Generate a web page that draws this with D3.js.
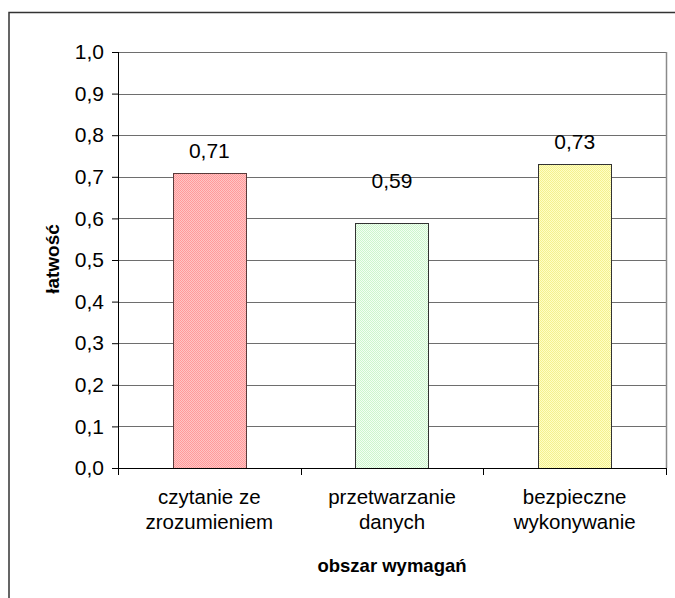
<!DOCTYPE html>
<html>
<head>
<meta charset="utf-8">
<script src="https://cdn.jsdelivr.net/npm/d3@7"></script>
<style>
  body { margin: 0; background: #fff; }
  text { font-family: Arial, "Liberation Sans", sans-serif; }
</style>
</head>
<body>
<script>
// categories (two lines each) and values
const categories = [
    ["czytanie ze", "zrozumieniem"],
    ["przetwarzanie", "danych"],
    ["bezpieczne", "wykonywanie"]
];
const values = [0.71, 0.59, 0.73];
const valueLabels = ["0,71", "0,59", "0,73"];
const yTicks = [0, 0.1, 0.2, 0.3, 0.4, 0.5, 0.6, 0.7, 0.8, 0.9, 1.0];

// bar colours: base and dot colour for the fine hatch
const fills = [
    {base: "#ffc4c4", dot: "#ff9a9a"},
    {base: "#f2fff2", dot: "#cdf5cd"},
    {base: "#ffffc4", dot: "#f4f090"}
];

const canvWidth = 675, canvHeight = 598;
const margin = {top: 52, right: 9, bottom: 130, left: 118};
const width = canvWidth - margin.left - margin.right;
const height = canvHeight - margin.top - margin.bottom;

const svg = d3.select("body").append("svg")
    .attr("width", canvWidth)
    .attr("height", canvHeight);

// small dotted patterns for the bars
const defs = svg.append("defs");
fills.forEach((f, i) => {
    const p = defs.append("pattern")
        .attr("id", "pat" + i)
        .attr("width", 2).attr("height", 2)
        .attr("patternUnits", "userSpaceOnUse");
    p.append("rect").attr("width", 2).attr("height", 2).attr("fill", f.base);
    p.append("rect").attr("width", 1).attr("height", 1).attr("fill", f.dot);
    p.append("rect").attr("x", 1).attr("y", 1).attr("width", 1).attr("height", 1).attr("fill", f.dot);
});

// outer chart frame (runs off the right and bottom of the window)
svg.append("rect")
    .attr("x", 9).attr("y", 12.5)
    .attr("width", 700).attr("height", 620)
    .attr("fill", "none")
    .attr("stroke", "#333")
    .attr("stroke-width", 1.5);

const g = svg.append("g")
    .attr("transform", `translate(${margin.left},${margin.top})`);

const xScale = d3.scaleBand()
    .domain(d3.range(categories.length))
    .range([0, width])
    .paddingInner(0.6)
    .paddingOuter(0.3);

const yScale = d3.scaleLinear().domain([0, 1]).range([height, 0]);

// gridlines
g.append("g")
    .selectAll("line")
    .data(yTicks.filter(d => d > 0))
    .enter().append("line")
    .attr("x1", 0).attr("x2", width)
    .attr("y1", d => Math.round(yScale(d)) + 0.5)
    .attr("y2", d => Math.round(yScale(d)) + 0.5)
    .attr("stroke", "#6e6e6e");

// right border of the plot area
g.append("line")
    .attr("x1", width + 0.5).attr("x2", width + 0.5)
    .attr("y1", 0).attr("y2", height)
    .attr("stroke", "#8a8a8a")
    .attr("stroke-width", 1.5);

// bars
g.selectAll("rect.bar")
    .data(values)
    .enter().append("rect")
    .attr("class", "bar")
    .attr("x", (d, i) => Math.round(xScale(i)) + 0.5)
    .attr("y", d => Math.round(yScale(d)) + 0.5)
    .attr("width", Math.round(xScale.bandwidth()))
    .attr("height", d => height - Math.round(yScale(d)))
    .attr("fill", (d, i) => `url(#pat${i})`)
    .attr("stroke", (d, i) => i === 0 ? "#5a3a3a" : "#333")
    .attr("stroke-width", 1);

// value labels (the middle one sits higher in the original)
const labelLift = [15, 35, 15];
g.selectAll("text.val")
    .data(values)
    .enter().append("text")
    .attr("class", "val")
    .attr("x", (d, i) => xScale(i) + xScale.bandwidth() / 2)
    .attr("y", (d, i) => yScale(d) - labelLift[i])
    .attr("text-anchor", "middle")
    .attr("font-size", "21px")
    .attr("fill", "#000")
    .text((d, i) => valueLabels[i]);

// y axis
const yAxis = d3.axisLeft(yScale)
    .tickValues(yTicks)
    .tickSize(6)
    .tickPadding(8)
    .tickFormat(d => d3.format(".1f")(d).replace(".", ","));
const ya = g.append("g").call(yAxis);
ya.select(".domain").attr("stroke", "#000").attr("d", `M0.5,0V${height}`);
ya.selectAll(".tick line").attr("stroke", "#000");
ya.selectAll("text")
    .attr("font-size", "21px")
    .attr("font-family", "Arial, 'Liberation Sans', sans-serif")
    .attr("fill", "#000");

// x axis with ticks at category boundaries
const xa = g.append("g").attr("transform", `translate(0,${height})`);
xa.append("line")
    .attr("x1", -6).attr("x2", width)
    .attr("y1", 0.5).attr("y2", 0.5)
    .attr("stroke", "#000");
xa.selectAll("line.tk")
    .data(d3.range(categories.length + 1))
    .enter().append("line")
    .attr("class", "tk")
    .attr("x1", i => Math.round(i * width / categories.length) + 0.5)
    .attr("x2", i => Math.round(i * width / categories.length) + 0.5)
    .attr("y1", 0).attr("y2", 7)
    .attr("stroke", "#000");

const catText = xa.selectAll("text.cat")
    .data(categories)
    .enter().append("text")
    .attr("class", "cat")
    .attr("text-anchor", "middle")
    .attr("font-size", "20.5px")
    .attr("fill", "#000");
catText.selectAll("tspan")
    .data((d, i) => d.map(s => ({s, i})))
    .enter().append("tspan")
    .attr("x", d => xScale(d.i) + xScale.bandwidth() / 2)
    .attr("y", (d, j) => 36 + j * 25)
    .text(d => d.s);

// axis titles
svg.append("text")
    .attr("x", margin.left + width / 2)
    .attr("y", 572)
    .attr("text-anchor", "middle")
    .attr("font-size", "18.5px")
    .attr("font-weight", "bold")
    .text("obszar wymagań");

svg.append("text")
    .attr("transform", "translate(59,259) rotate(-90)")
    .attr("text-anchor", "middle")
    .attr("font-size", "19px")
    .attr("font-weight", "bold")
    .text("łatwość");
</script>
</body>
</html>
